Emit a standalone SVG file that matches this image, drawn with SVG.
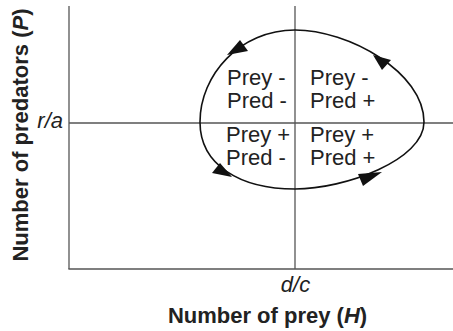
<svg xmlns="http://www.w3.org/2000/svg" width="453" height="331" viewBox="0 0 453 331">
<style>
.ax{stroke:#555;stroke-width:1.3;fill:none}
.cyc{stroke:#111;stroke-width:1.6;fill:none}
.ah{fill:#111;stroke:none}
.q{font-family:"Liberation Sans",Arial,sans-serif;font-size:22px;fill:#222}
.it{font-family:"Liberation Sans",Arial,sans-serif;font-size:22px;font-style:italic;fill:#222}
.lab{font-family:"Liberation Sans",Arial,sans-serif;font-size:22px;font-weight:bold;fill:#222}
</style>
<rect width="453" height="331" fill="#fff"/>
<g id="axes">
<line class="ax" x1="69" y1="6" x2="69" y2="269"/>
<line class="ax" x1="68.4" y1="269" x2="453" y2="269"/>
<line class="ax" x1="295" y1="6" x2="295" y2="269"/>
<line class="ax" x1="69" y1="123" x2="453" y2="123"/>
</g>
<g id="connectors">
<path class="cyc" d="M295,30 C348,30 424,72 424,122 C424,160 345,189 295,189 C240,189 200,165 200,122 C200,75 240,30 295,30 Z"/>
<polygon class="ah" points="227,55 240,40 248,51"/>
<polygon class="ah" points="373,55 382,70 391,60"/>
<polygon class="ah" points="232,177 212,173 220,163"/>
<polygon class="ah" points="382,172 358,174 363,186"/>
</g>
<g id="quadrant-tl"><text class="q" x="227" y="85">Prey -</text><text class="q" x="227" y="108">Pred -</text></g>
<g id="quadrant-tr"><text class="q" x="310" y="85">Prey -</text><text class="q" x="310" y="108">Pred +</text></g>
<g id="quadrant-bl"><text class="q" x="226" y="142">Prey +</text><text class="q" x="226" y="165">Pred -</text></g>
<g id="quadrant-br"><text class="q" x="310" y="142">Prey +</text><text class="q" x="310" y="165">Pred +</text></g>
<g id="ticks">
<text class="it" x="63" y="128" text-anchor="end">r/a</text>
<text class="it" x="295.5" y="292" text-anchor="middle">d/c</text>
</g>
<g id="x-label"><text class="lab" x="267.5" y="323" text-anchor="middle">Number of prey (<tspan font-style="italic">H</tspan>)</text></g>
<g id="y-label"><text class="lab" transform="translate(28,135) rotate(-90)" x="0" y="0" text-anchor="middle">Number of predators (<tspan font-style="italic">P</tspan>)</text></g>
</svg>
